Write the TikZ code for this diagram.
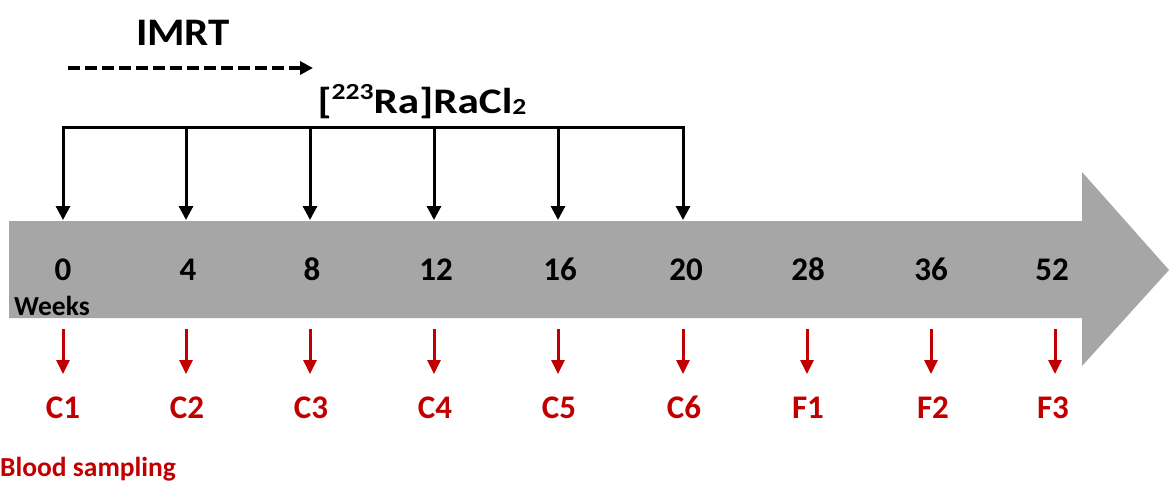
\documentclass[tikz,border=0pt]{standalone}
\usepackage{fontspec}
\setmainfont{Carlito}
\usetikzlibrary{arrows.meta}
\definecolor{timegray}{HTML}{A6A6A6}
\definecolor{samplered}{HTML}{C00000}
\begin{document}
\begin{tikzpicture}[x=1pt,y=-1pt,
  every node/.style={inner sep=0pt},
  weeklbl/.style={font=\fontsize{33}{33}\selectfont\bfseries, anchor=base},
  samplelbl/.style={font=\fontsize{33}{33}\selectfont\bfseries, anchor=base, text=samplered},
  smalllbl/.style={font=\fontsize{27.5}{27.5}\selectfont\bfseries, anchor=base west},
  doseline/.style={line width=3pt, black},
  dosearrow/.style={line width=3pt, black, -{Triangle[width=14pt,length=14pt]}},
  drawarrow/.style={line width=3pt, samplered, -{Triangle[width=13pt,length=14pt]}},
  imrtarrow/.style={line width=4pt, black, dash pattern=on 12pt off 5pt, -{Triangle[width=13pt,length=13pt]}}
]
\useasboundingbox (0,0) rectangle (1169,482);

% time axis: wide grey block arrow
\fill[timegray] (9,221) -- (1082,221) -- (1082,172) -- (1169,270) -- (1082,366)
  -- (1082,318) -- (9,318) -- cycle;

% week labels on the axis
\node[weeklbl] (w0)  at (63,280)   {0};
\node[weeklbl] (w4)  at (188,280)  {4};
\node[weeklbl] (w8)  at (312,280)  {8};
\node[weeklbl] (w12) at (436,280)  {12};
\node[weeklbl] (w16) at (560,280)  {16};
\node[weeklbl] (w20) at (686,280)  {20};
\node[weeklbl] (w28) at (808,280)  {28};
\node[weeklbl] (w36) at (931,280)  {36};
\node[weeklbl] (w52) at (1052,280) {52};
\node[smalllbl] (weeks) at (14,315) {Weeks};

% IMRT
\node[font=\fontsize{39}{39}\selectfont\bfseries, anchor=base] (imrt) at (183,45)
  {\scalebox{1.1}[1]{IMRT}};
\coordinate (imrtS) at (68,68);
\coordinate (imrtE) at (313,68);
\draw[imrtarrow] (imrtS) -- (imrtE);

% radium-223 administrations
\node[font=\fontsize{36}{36}\selectfont\bfseries, anchor=base] (ra) at (422,113)
  {\scalebox{1.2}[1]{[\raisebox{14pt}{\fontsize{23}{23}\selectfont 223}Ra]RaCl\raisebox{-1pt}{\fontsize{23}{23}\selectfont 2}}};
\foreach \i/\x in {1/63,2/186,3/310,4/434,5/558,6/683} {
  \coordinate (d\i) at (\x,127);
  \coordinate (e\i) at (\x,220);
}
\draw[doseline] ([xshift=-1.5pt]d1) -- ([xshift=1.5pt]d6);
\foreach \i in {1,...,6} \draw[dosearrow] (d\i) -- (e\i);

% blood sampling
\foreach \n/\x/\t/\lx in {c1/63/C1/63, c2/186/C2/187, c3/310/C3/311, c4/434/C4/435,
    c5/558/C5/559, c6/683/C6/684, f1/807/F1/808, f2/931/F2/933, f3/1055/F3/1053} {
  \node[samplelbl] (\n) at (\lx,418) {\t};
  \coordinate (\n top) at (\x,329);
  \coordinate (\n tip) at (\x,374);
  \draw[drawarrow] (\n top) -- (\n tip);
}
\node[smalllbl, text=samplered] (blood) at (0,476) {Blood sampling};
\end{tikzpicture}
\end{document}
